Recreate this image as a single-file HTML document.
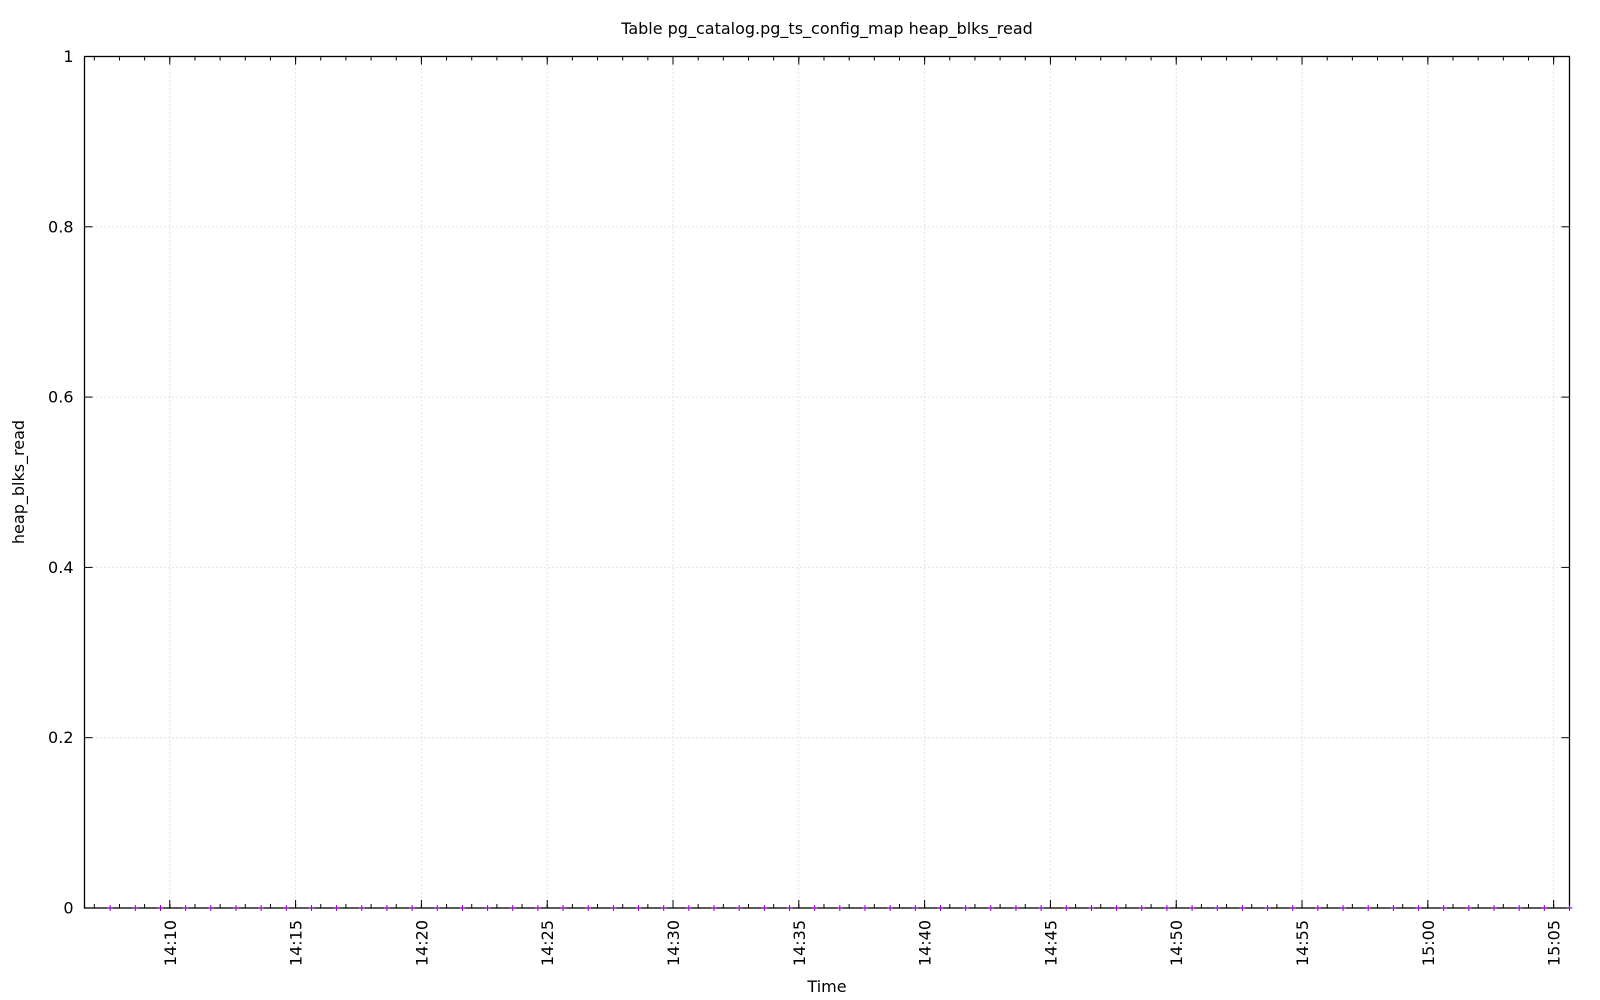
<!DOCTYPE html>
<html><head><meta charset="utf-8"><style>
html,body{margin:0;padding:0;background:#fff;}
svg{display:block;font-family:"DejaVu Sans","Liberation Sans",sans-serif;}
</style></head><body>
<svg id="chart" width="1600" height="1000">
<text x="827" y="34" font-size="16" text-anchor="middle">Table pg_catalog.pg_ts_config_map heap_blks_read</text>
<text x="827" y="992" font-size="16" text-anchor="middle">Time</text>
<text transform="translate(24,482) rotate(-90)" font-size="16" text-anchor="middle">heap_blks_read</text>
<g id="grid"></g><g id="axes"></g><g id="marks"></g>
</svg>
<script>
const yTicks = [0, 0.2, 0.4, 0.6, 0.8, 1];
const yTickLabels = ["0", "0.2", "0.4", "0.6", "0.8", "1"];
const xTickMinutes = [10, 15, 20, 25, 30, 35, 40, 45, 50, 55, 60, 65];
const xTickLabels = ["14:10","14:15","14:20","14:25","14:30","14:35","14:40","14:45","14:50","14:55","15:00","15:05"];
const sampleMinutes = [];
for (let k = 0; k <= 58; k++) sampleMinutes.push(7.63 + k);
const sampleValues = new Array(59).fill(0);

const L = 84.5, R = 1569.5, T = 56.5, B = 908;
const tMin = 6.61, tMax = 65.63;
const ns = "http://www.w3.org/2000/svg";
function xs(t){ return L + (t - tMin) / (tMax - tMin) * (R - L); }
function ys(v){ return B - v * (B - T); }
function mk(tag, attrs, parent){ const e = document.createElementNS(ns, tag); for (const k in attrs) e.setAttribute(k, attrs[k]); parent.appendChild(e); return e; }
const grid = document.getElementById('grid'), axes = document.getElementById('axes'), marks = document.getElementById('marks');

yTicks.forEach((v, i) => {
  const y = ys(v);
  if (v > 0 && v < 1) {
    const g = mk('line', {x1:L, x2:R, y1:y, y2:y, stroke:'#c8c8c8', 'stroke-width':1, 'stroke-dasharray':'1,3'}, grid);
    
    
  }
  mk('line', {x1:L, x2:L+8, y1:y, y2:y, stroke:'#000'}, axes);
  mk('line', {x1:R-8, x2:R, y1:y, y2:y, stroke:'#000'}, axes);
  const t = mk('text', {x:L-11, y:y+5.5, 'font-size':16, 'text-anchor':'end'}, axes);
  t.textContent = yTickLabels[i];
  
  
});
for (let m = 7; m <= 65; m++) {
  const x = xs(m);
  mk('line', {x1:x, x2:x, y1:B, y2:B-4, stroke:'#000'}, axes);
  mk('line', {x1:x, x2:x, y1:T, y2:T+4, stroke:'#000'}, axes);
}
xTickMinutes.forEach((m, i) => {
  const x = xs(m);
  const g = mk('line', {x1:x, x2:x, y1:T, y2:B, stroke:'#c8c8c8', 'stroke-width':1, 'stroke-dasharray':'1,3'}, grid);
  
  
  mk('line', {x1:x, x2:x, y1:B, y2:B-8, stroke:'#000'}, axes);
  mk('line', {x1:x, x2:x, y1:T, y2:T+8, stroke:'#000'}, axes);
  const t = mk('text', {transform:`translate(${x+6},${B+12}) rotate(-90)`, 'font-size':16, 'text-anchor':'end'}, axes);
  t.textContent = xTickLabels[i];
  
  
});
const frame = mk('rect', {x:L, y:T, width:R-L, height:B-T, fill:'none', stroke:'#000', 'stroke-width':1.3}, axes);


sampleMinutes.forEach((m, i) => {
  const x = xs(m), y = ys(sampleValues[i]);
  const p = mk('path', {d:`M${x-3},${y}H${x+3}M${x},${y-3}V${y+3}`, stroke:'#9400d3', 'stroke-width':1}, marks);
  
  
});
</script>
</body></html>
